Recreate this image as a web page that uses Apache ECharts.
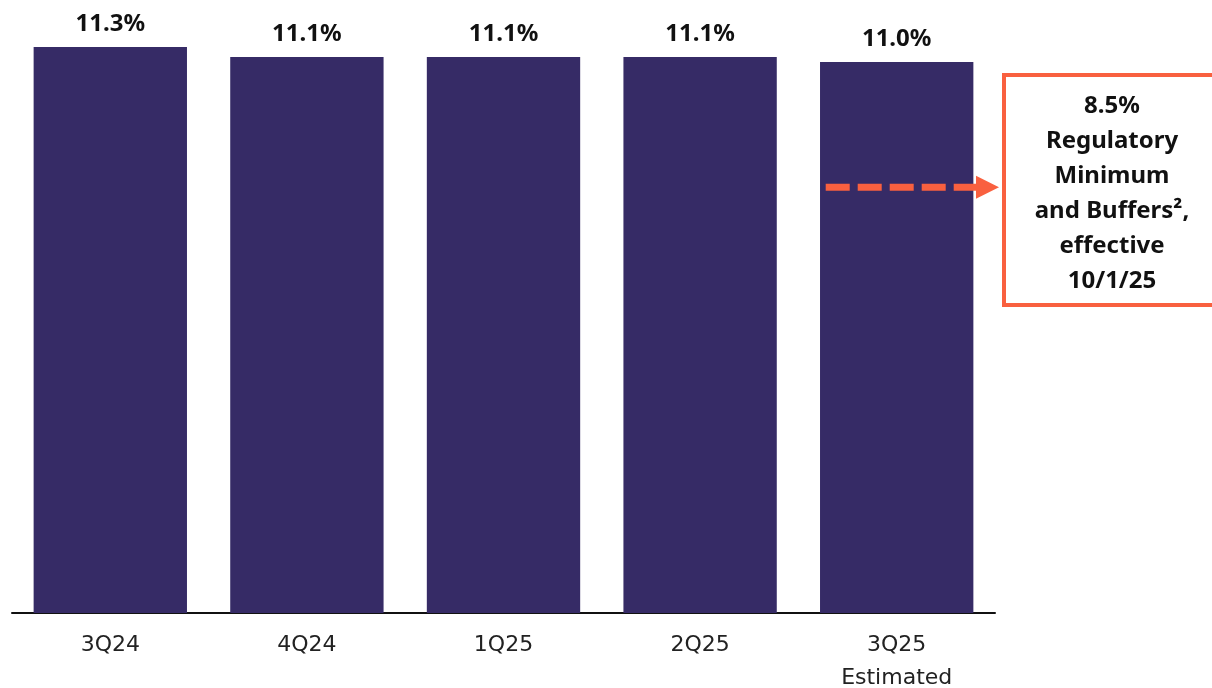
<!DOCTYPE html>
<html>
<head>
<meta charset="utf-8">
<script src="https://cdn.jsdelivr.net/npm/echarts@6/dist/echarts.min.js"></script>
<style>
  html, body { margin: 0; padding: 0; background: #fff; overflow: hidden; }
  #chart { width: 1212px; height: 688px; }
</style>
</head>
<body>
<div id="chart"></div>
<script>
// CET1 capital ratio by quarter
const categories = ['3Q24', '4Q24', '1Q25', '2Q25', '3Q25\nEstimated'];
const ratios = [11.3, 11.1, 11.1, 11.1, 11.0];
// Regulatory minimum plus buffers, effective 10/1/25
const requirement = 8.5;
const requirementLines = ['8.5%', 'Regulatory', 'Minimum', 'and Buffers²,', 'effective', '10/1/25'];

const BOLD_FONT = '"Noto Sans", Lato, sans-serif';
const AXIS_FONT = '"DejaVu Sans", "Noto Sans", sans-serif';
const BAR = '#362B66';
const ACCENT = '#F9603F';

const chart = echarts.init(document.getElementById('chart'));
chart.setOption({
  animation: false,
  grid: { left: 12, width: 983, top: 47, height: 566, containLabel: false, outerBoundsMode: 'none' },
  xAxis: {
    type: 'category',
    data: categories,
    axisLine: { lineStyle: { color: '#111', width: 2 } },
    axisTick: { show: false },
    axisLabel: {
      color: '#222', fontFamily: AXIS_FONT, fontSize: 22, lineHeight: 33, margin: 16
    }
  },
  yAxis: {
    type: 'value', min: 0, max: 11.3,
    show: false, splitLine: { show: false }
  },
  series: [{
    type: 'bar',
    data: ratios,
    barCategoryGap: '22%',
    itemStyle: { color: BAR },
    label: {
      show: true, position: 'top', distance: 11,
      fontFamily: BOLD_FONT, fontWeight: 'bold', fontSize: 24, color: '#111',
      formatter: p => p.value.toFixed(1) + '%'
    }
  }]
});

// Dashed arrow at the requirement level, leading into the callout box
const yReq = chart.convertToPixel({ yAxisIndex: 0 }, requirement);
const lastBar = chart.convertToPixel({ xAxisIndex: 0 }, categories.length - 1);
const xStart = lastBar - 71;
const xHeadStart = 976;
const xHeadEnd = 999;

chart.setOption({
  graphic: [
    {
      type: 'line',
      shape: { x1: xStart, y1: yReq, x2: xHeadStart + 2, y2: yReq },
      style: { stroke: ACCENT, lineWidth: 7, lineDash: [24, 8] },
      z: 10
    },
    {
      type: 'polygon',
      shape: { points: [[xHeadStart, yReq - 11.5], [xHeadEnd, yReq], [xHeadStart, yReq + 11.5]] },
      style: { fill: ACCENT },
      z: 10
    },
    {
      type: 'rect',
      shape: { x: 1004, y: 75, width: 240, height: 230 },
      style: { fill: '#fff', stroke: ACCENT, lineWidth: 4 },
      z: 10
    },
    {
      type: 'text',
      x: 1112, y: 89,
      style: {
        text: requirementLines.join('\n'),
        fill: '#111',
        font: 'bold 24px ' + BOLD_FONT,
        lineHeight: 35,
        align: 'center',
        verticalAlign: 'top'
      },
      z: 11
    }
  ]
});
</script>
</body>
</html>
